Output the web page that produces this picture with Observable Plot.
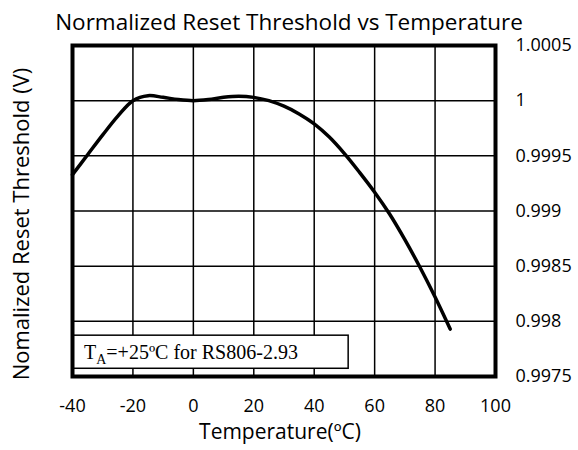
<!DOCTYPE html>
<html>
<head>
<meta charset="utf-8">
<script src="https://cdn.jsdelivr.net/npm/d3@7"></script>
<script src="https://cdn.jsdelivr.net/npm/@observablehq/plot@0.6"></script>
<style>
  html, body { margin: 0; padding: 0; background: white; }
</style>
</head>
<body>
<div id="chart"></div>
<script>
const title = "Normalized Reset Threshold vs Temperature";
const xLabel = "Temperature(ºC)";
const yLabel = "Nomalized Reset Threshold (V)";
const xTicks = [-40, -20, 0, 20, 40, 60, 80, 100];
const yTicks = [0.9975, 0.998, 0.9985, 0.999, 0.9995, 1, 1.0005];
const yTickLabels = ["0.9975", "0.998", "0.9985", "0.999", "0.9995", "1", "1.0005"];
const temperature = [-40, -35, -30, -25, -20, -15, -10, -5, 0, 5, 10, 15, 20, 25, 30, 35, 40, 45, 50, 55, 60, 65, 70, 75, 80, 85];
const threshold = [0.99933, 0.99951, 0.99969, 0.99986, 1.00000, 1.000045, 1.00003, 1.00001, 1.00000, 1.00001, 1.00003, 1.00004, 1.00003, 1.00000, 0.99995, 0.99988, 0.99979, 0.99967, 0.99952, 0.99935, 0.99917, 0.99897, 0.99874, 0.99849, 0.99822, 0.99793];
const noteMain = "T";
const noteSub = "A";
const noteRest = "=+25ºC for RS806-2.93";
// annotation box extent in data units
const noteX = [-40, 51.4];
const noteY = [0.99757, 0.99787];

const data = temperature.map((t, i) => ({t, v: threshold[i]}));

function noteMark(index, {x, y}) {
  const g = d3.create("svg:g");
  g.append("rect")
    .attr("x", x(noteX[0]))
    .attr("y", y(noteY[1]))
    .attr("width", x(noteX[1]) - x(noteX[0]))
    .attr("height", y(noteY[0]) - y(noteY[1]))
    .attr("fill", "white")
    .attr("stroke", "black")
    .attr("stroke-width", 1.5);
  const t = g.append("text")
    .attr("x", x(noteX[0]) + 12)
    .attr("y", (y(noteY[0]) + y(noteY[1])) / 2 + 7)
    .attr("text-anchor", "start")
    .attr("font-family", "'Liberation Serif', 'Times New Roman', serif")
    .attr("font-size", 20)
    .attr("fill", "black");
  t.append("tspan").text(noteMain);
  t.append("tspan").attr("font-size", 14).attr("dy", 5).text(noteSub);
  t.append("tspan").attr("dy", -5).text(noteRest);
  return g.node();
}

const chart = Plot.plot({
  width: 578,
  height: 450,
  marginLeft: 72,
  marginRight: 83,
  marginTop: 45,
  marginBottom: 74,
  style: {fontFamily: "'Open Sans', sans-serif", fontSize: "18px", background: "white", color: "black"},
  x: {domain: [-40, 100], label: null},
  y: {domain: [0.9975, 1.0005], label: null},
  marks: [
    Plot.gridX(xTicks, {stroke: "black", strokeOpacity: 1, strokeWidth: 1.5}),
    Plot.gridY(yTicks, {stroke: "black", strokeOpacity: 1, strokeWidth: 1.5}),
    Plot.line(data, {x: "t", y: "v", curve: "catmull-rom", stroke: "black", strokeWidth: 3.5}),
    noteMark,
    Plot.frame({stroke: "black", strokeWidth: 4}),
    Plot.axisX(xTicks, {tickSize: 0, tickPadding: 23, fontSize: 18, tickFormat: d => String(d)}),
    Plot.axisY(yTicks, {anchor: "right", tickSize: 0, tickPadding: 20, fontSize: 18, tickFormat: d => yTickLabels[yTicks.indexOf(d)]}),
    Plot.text([title], {frameAnchor: "top", dy: -31, dx: 5, fontSize: 22.5, text: d => d}),
    Plot.text([xLabel], {frameAnchor: "bottom", dy: 62, dx: -4, fontSize: 21, text: d => d}),
    Plot.text([yLabel], {frameAnchor: "left", textAnchor: "middle", dx: -51, dy: 13, rotate: -90, fontSize: 22, text: d => d})
  ]
});
document.getElementById("chart").appendChild(chart);
</script>
</body>
</html>
